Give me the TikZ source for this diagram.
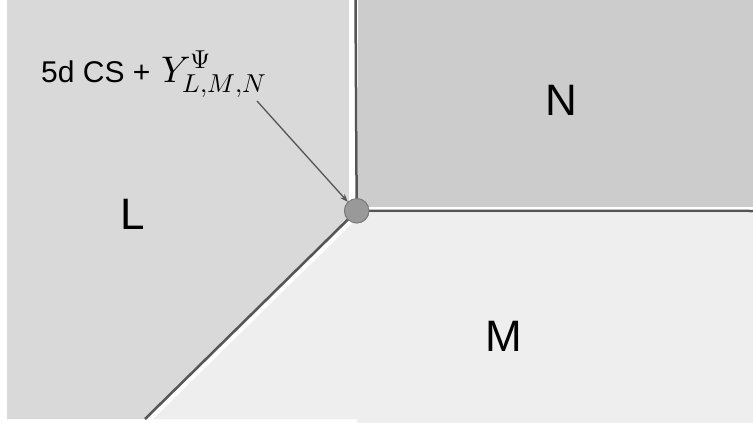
\documentclass[tikz,border=0pt]{standalone}
\usepackage{fontspec}
\setmainfont{Liberation Sans}
\usepackage{unicode-math}
\setmathfont{Latin Modern Math}
\usetikzlibrary{arrows.meta}
\definecolor{regL}{HTML}{D9D9D9}
\definecolor{regN}{HTML}{CCCCCC}
\definecolor{regM}{HTML}{EEEEEE}
\definecolor{edge}{HTML}{555555}
\definecolor{dotfill}{HTML}{999999}
\definecolor{dotdraw}{HTML}{777777}
\tikzset{
  bigletter/.style={font=\fontsize{44}{50}\selectfont, inner sep=0pt, anchor=base west},
  whiteband/.style={draw=white, line cap=butt},
  darkedge/.style={draw=edge, line width=2.5pt, line cap=butt},
  junction/.style={circle, fill=dotfill, draw=dotdraw, line width=0.8pt, minimum size=24.5pt, inner sep=0pt},
  pointer/.style={draw=edge, line width=1.3pt, -{Stealth[length=8pt,width=6pt]}}
}
\begin{document}
\begin{tikzpicture}[x=1pt,y=-1pt]
\useasboundingbox (0,0) rectangle (753,423);
\fill[white] (0,0) rectangle (753,423);
% regions
\fill[regL] (7,0) -- (355,0) -- (357,211) -- (145,419) -- (7,419) -- cycle;
\fill[regN] (355,0) -- (753,0) -- (753,211) -- (357,211) -- cycle;
\fill[regM] (357,211) -- (753,211) -- (753,423) -- (357,423) -- (357,419) -- (145,419) -- cycle;
% coordinates
\coordinate (top) at (355.5,0);
\coordinate (right) at (753,211);
\coordinate (bottom) at (145,419);
\node[junction] (J) at (356.7,210.8) {};
% white bands
\draw[whiteband, line width=9pt] (353.5,0) -- (353.5,211);
\draw[whiteband, line width=6pt] (357,210) -- (753,210);
\draw[whiteband, line width=4pt] ([shift={(2.6,2.6)}]J.center) -- ([shift={(2.6,2.6)}]bottom);
% dark edges
\draw[darkedge] (top) -- (J.center);
\draw[darkedge] (J.center) -- (right);
\draw[darkedge] (J.center) -- (bottom);
\node[junction] at (J.center) {};
% labels
\node[bigletter] (labN) at (545,115) {N};
\node[bigletter] (labL) at (120,229) {L};
\node[bigletter] (labM) at (485,351) {M};
\node[font=\fontsize{30}{36}\selectfont, inner sep=0pt, anchor=base west] (cs) at (41,82) {5d CS +};
\node[font=\fontsize{37}{44}\selectfont, inner sep=0pt, anchor=base west] (Y) at (161,82) {$Y^{\Psi}_{L,M,N}$};
\coordinate (ptr) at (257,101);
\draw[pointer] (ptr) -- (J.north west);
\end{tikzpicture}
\end{document}
